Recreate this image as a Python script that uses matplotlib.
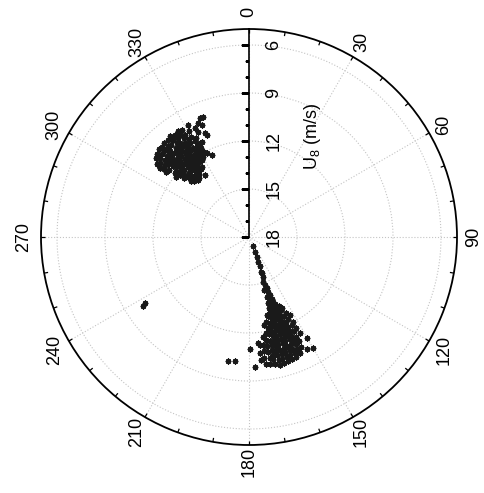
import numpy as np
import matplotlib.pyplot as plt
from matplotlib import transforms

plt.rcParams["font.family"] = ["Liberation Sans", "DejaVu Sans"]
plt.rcParams["mathtext.fontset"] = "custom"
plt.rcParams["mathtext.rm"] = "Liberation Sans"
plt.rcParams["mathtext.it"] = "Liberation Sans:italic"

# --- wind direction (deg) and U8 speed (m/s) ---
# north-west group
nw_dir = [308.2, 307.6, 308.6, 308.0,
          310.3, 309.7, 310.6, 310.0, 310.9,
          312.1, 311.6, 312.4, 311.9, 312.7, 312.2, 311.8, 312.5,
          314.2, 313.7, 314.5, 314.0, 313.8, 314.6, 314.1, 313.6, 314.4, 314.0,
          316.1, 315.8, 316.4, 316.0, 315.7, 316.5, 316.2, 315.9, 316.6, 316.1, 315.8,
          318.0, 318.4, 317.7, 318.3, 318.6, 317.9, 318.2, 318.5, 317.8, 318.1, 318.4,
          320.2, 319.8, 320.5, 320.0, 319.7, 320.4, 320.1, 319.9, 320.6, 320.2, 319.8,
          322.1, 321.7, 322.4, 322.0, 321.8, 322.5, 322.2, 321.9, 322.3, 322.0, 321.6,
          324.0, 324.4, 323.8, 324.2, 324.5, 323.9, 324.3, 324.1, 323.7, 324.4,
          326.2, 325.8, 326.5, 326.0, 325.9, 326.4, 326.1, 325.7, 326.3, 326.0,
          328.1, 327.8, 328.4, 328.0, 327.7, 328.3, 328.0, 328.5,
          330.2, 329.8, 330.5, 330.0, 329.9, 330.4,
          332.0, 332.4, 331.8, 332.2,
          331.4, 333.6, 334.1, 335.9, 337.2, 337.6, 339.0, 337.6, 337.1, 333.7,
          333.4, 335.7, 330.1, 329.1, 315.0, 319.2, 313.2, 324.6, 307.8, 309.5]
nw_spd = [10.65, 10.95, 11.2, 11.45,
          10.4, 10.75, 11.1, 11.5, 11.85,
          10.25, 10.6, 10.9, 11.2, 11.5, 11.85, 12.2, 12.5,
          10.15, 10.45, 10.8, 11.1, 11.4, 11.7, 12.05, 12.35, 12.65, 12.95,
          10.2, 10.45, 10.75, 11.05, 11.35, 11.6, 11.9, 12.2, 12.5, 12.8, 13.1,
          10.1, 10.4, 10.7, 10.95, 11.3, 11.6, 11.9, 12.2, 12.5, 12.85, 13.2,
          10.1, 10.45, 10.8, 11.1, 11.4, 11.7, 12.0, 12.3, 12.6, 12.9, 13.15,
          10.0, 10.3, 10.6, 10.9, 11.2, 11.5, 11.8, 12.1, 12.4, 12.7, 13.0,
          10.1, 10.4, 10.7, 11.0, 11.3, 11.6, 11.9, 12.2, 12.5, 12.8,
          10.0, 10.3, 10.6, 10.9, 11.2, 11.5, 11.8, 12.1, 12.4, 12.7,
          10.1, 10.45, 10.8, 11.1, 11.4, 11.7, 12.0, 12.35,
          10.4, 10.75, 11.1, 11.45, 11.8, 12.1,
          11.0, 11.35, 11.7, 12.0,
          10.03, 10.4, 10.7, 10.19, 10.41, 9.96, 9.97, 11.1, 10.94, 11.37,
          12.13, 12.38, 12.23, 11.66, 12.96, 13.13, 12.52, 13.25, 10.96, 12.1]

# southern group (fan plus the low-speed tail toward the centre)
s_dir = [152.3, 152.8, 152.5, 152.0,
         154.6, 154.2, 154.8, 154.4, 154.1, 154.7, 154.3, 154.9,
         156.4, 156.8, 156.2, 156.6, 156.9, 156.3, 156.7, 156.5, 156.1, 156.6, 156.9,
         158.5, 158.2, 158.8, 158.4, 158.1, 158.7, 158.3, 158.9, 158.5, 158.2, 158.6, 158.4, 158.8,
         160.4, 160.8, 160.2, 160.6, 160.9, 160.3, 160.7, 160.5, 160.1, 160.6, 160.8, 160.4, 160.2, 160.7,
         162.6, 162.2, 162.8, 162.4, 162.1, 162.7, 162.5, 162.3, 162.9, 162.5, 162.2, 162.6, 162.4, 162.8,
         164.4, 164.7, 164.2, 164.6, 164.9, 164.3, 164.5, 164.8, 164.1, 164.6, 164.4, 164.7, 164.3,
         166.5, 166.2, 166.8, 166.4, 166.1, 166.7, 166.3, 166.6, 166.9, 166.4, 166.2,
         168.4, 168.7, 168.3, 168.6, 168.2, 168.8, 168.5, 168.3, 168.6,
         170.6, 170.3, 170.8, 170.4, 170.7, 170.2, 170.5,
         172.4, 172.7, 172.3, 172.6, 172.2,
         174.3, 174.7, 174.4,
         154.5, 157.8, 158.7, 159.4, 159.2, 161.4, 160.7, 160.2, 162.3, 161.6,
         161.0, 164.2, 160.6, 160.1, 163.5, 160.0, 159.4, 163.8, 159.1, 158.8,
         164.0, 162.0, 159.0, 167.2, 158.6, 162.1,
         150.1, 152.6, 150.0, 179.5, 189.6, 186.4, 177.4, 175.1]
s_spd = [11.2, 11.6, 12.0, 12.5,
         10.4, 10.8, 11.1, 11.5, 11.9, 12.3, 12.7, 13.1,
         10.1, 10.4, 10.7, 11.0, 11.3, 11.6, 11.9, 12.2, 12.6, 13.0, 13.3,
         9.95, 10.2, 10.5, 10.8, 11.1, 11.4, 11.7, 12.0, 12.3, 12.6, 12.9, 13.2, 13.5,
         9.9, 10.2, 10.5, 10.8, 11.1, 11.4, 11.7, 12.0, 12.3, 12.6, 12.9, 13.2, 13.5, 13.8,
         9.85, 10.15, 10.45, 10.75, 11.05, 11.35, 11.65, 11.95, 12.25, 12.55, 12.85, 13.15, 13.45, 13.75,
         9.85, 10.1, 10.4, 10.7, 11.0, 11.3, 11.6, 11.9, 12.2, 12.5, 12.8, 13.1, 13.4,
         9.8, 10.1, 10.4, 10.7, 11.0, 11.3, 11.6, 11.9, 12.2, 12.5, 12.9,
         9.9, 10.2, 10.5, 10.8, 11.1, 11.4, 11.8, 12.2, 12.6,
         9.95, 10.3, 10.7, 11.1, 11.5, 11.9, 12.4,
         10.0, 10.4, 10.8, 11.2, 11.7,
         10.3, 10.7, 11.2,
         17.38, 17.0, 16.68, 16.35, 16.06, 15.71, 15.6, 15.36, 15.07, 14.84,
         14.61, 14.56, 14.38, 14.14, 14.11, 13.86, 13.68, 13.69, 13.45, 13.22,
         13.25, 13.09, 12.89, 13.0, 12.7, 12.72,
         10.72, 10.12, 9.99, 11.0, 10.14, 10.2, 9.87, 11.35]

# isolated west-south-west records
wsw_dir = [236.9, 237.6]
wsw_spd = [10.09, 10.3]

theta_labels = list(range(0, 360, 30))
theta_ticks = list(range(0, 360, 10))
r_major = [6, 9, 12, 15, 18]
r_minor = [7, 8, 10, 11, 13, 14, 16, 17]
R_IN, R_OUT = 18, 5

fig = plt.figure(figsize=(4.85, 4.93), dpi=100)
ax = fig.add_axes([41 / 485, 48 / 493, 416 / 485, 416 / 493], projection="polar")
ax.set_theta_zero_location("N")
ax.set_theta_direction(-1)
ax.set_ylim(R_IN, R_OUT)

# angular grid
ax.set_xticks(np.deg2rad(theta_labels))
ax.set_xticklabels([])
ax.tick_params(axis="x", length=0)
ax.set_yticks(r_major[:-1])
ax.set_yticklabels([])
ax.tick_params(axis="y", length=0)
ax.grid(True, color="#c4c4c4", linestyle=":", linewidth=0.8)
ax.spines["polar"].set_linewidth(1.3)

# short inward ticks on the rim every 10 deg
for a in theta_ticks:
    ax.plot([np.deg2rad(a)] * 2, [R_OUT, R_OUT + 0.25], color="black",
            lw=0.9, solid_capstyle="butt", zorder=4)

# radial axis along 0 deg
ax.plot([0, 0], [R_IN, R_OUT], color="black", lw=1.2, zorder=4)
ax.plot(np.zeros(len(r_major)), r_major, ls="none", marker=0, ms=5.5,
        mew=1.0, color="black", zorder=4)
ax.plot(np.zeros(len(r_minor)), r_minor, ls="none", marker=0, ms=3.0,
        mew=1.0, color="black", zorder=4)

lab_tr = transforms.offset_copy(ax.transData, fig=fig, x=18, y=0, units="points")
for r in r_major:
    ax.text(0, r, str(r), transform=lab_tr, rotation=90, ha="center",
            va="center", fontsize=13)
ax.text(0, 11.7, r"U$_8$ (m/s)",
        transform=transforms.offset_copy(ax.transData, fig=fig, x=46, y=0,
                                         units="points"),
        rotation=90, ha="center", va="center", fontsize=13)

for a in theta_labels:
    ax.text(np.deg2rad(a), 3.94, str(a), rotation=90, ha="center",
            va="center", fontsize=13)

# observations
for d, s in [(nw_dir, nw_spd), (s_dir, s_spd), (wsw_dir, wsw_spd)]:
    ax.plot(np.deg2rad(d), s, ls="none", marker=(8, 2, 0), ms=4.0,
            mew=1.0, color="#1a1a1a", zorder=5)

fig.savefig("out.png", dpi=100)
